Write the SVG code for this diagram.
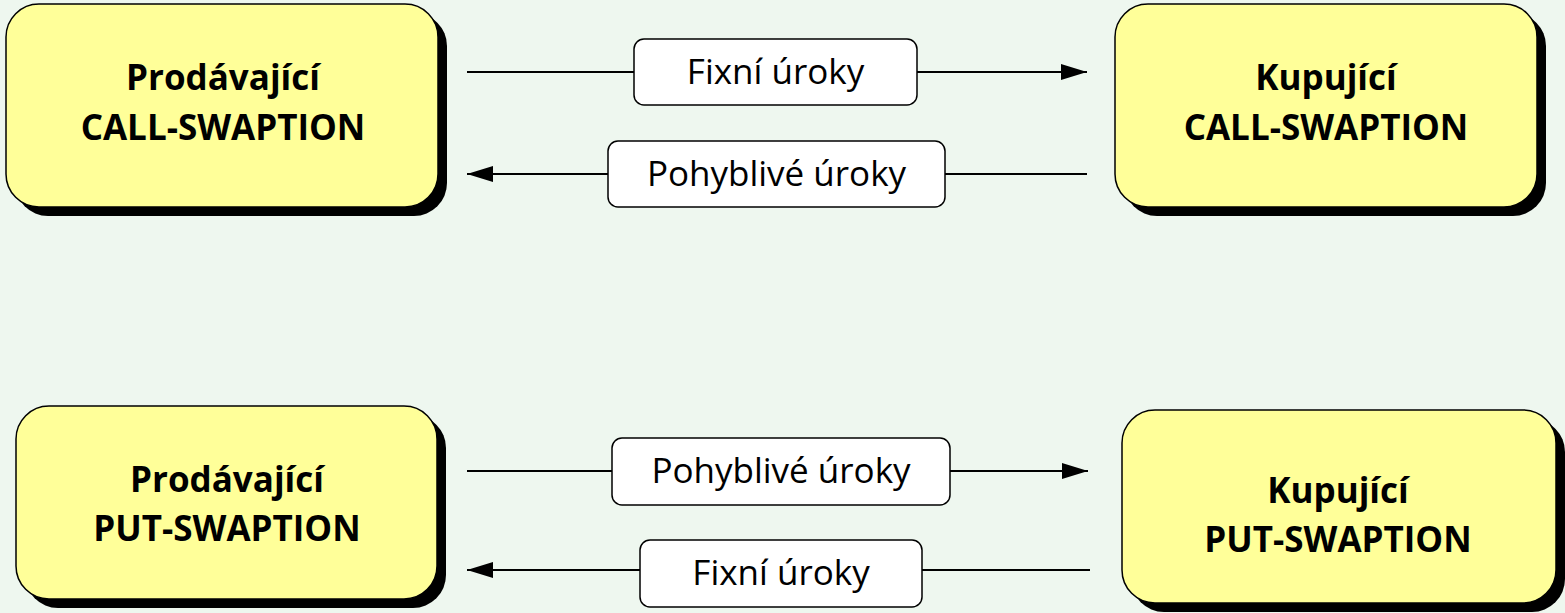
<svg xmlns="http://www.w3.org/2000/svg" width="1565" height="613" viewBox="0 0 1565 613">
  <defs>
    <marker id="arrowBig" viewBox="0 0 26 16" refX="26" refY="8" markerWidth="26" markerHeight="16" markerUnits="userSpaceOnUse" orient="auto">
      <path d="M0,0 L26,8 L0,16 Z" fill="#000"/>
    </marker>
  </defs>
  <style>
    .party-shadow { fill: #000; }
    .party { fill: #FFFF99; stroke: #000; stroke-width: 1.5; }
    .party-text { font-family: "Open Sans", "Liberation Sans", sans-serif; font-weight: bold; font-size: 35px; fill: #000; text-anchor: middle; }
    .flow { stroke: #000; stroke-width: 2; fill: none; }
    .tag { fill: #fff; stroke: #000; stroke-width: 1.5; }
    .tag-text { font-family: "Open Sans", "Liberation Sans", sans-serif; font-size: 35px; fill: #000; text-anchor: middle; }
  </style>

  <rect x="0" y="0" width="1565" height="613" fill="#EEF7EF"/>

  <!-- cash-flow connectors -->
  <g id="connectors">
    <line class="flow" x1="467" y1="72" x2="1087" y2="72" marker-end="url(#arrowBig)"/>
    <line class="flow" x1="1087" y1="174" x2="467" y2="174" marker-end="url(#arrowBig)"/>
    <line class="flow" x1="467" y1="471" x2="1088" y2="471" marker-end="url(#arrowBig)"/>
    <line class="flow" x1="1090" y1="570" x2="467" y2="570" marker-end="url(#arrowBig)"/>

    <g id="label-call-fixed">
      <rect class="tag" x="634" y="39" width="283" height="66" rx="10"/>
      <text class="tag-text" x="775.5" y="84">Fixní úroky</text>
    </g>
    <g id="label-call-floating">
      <rect class="tag" x="608" y="141" width="337" height="66" rx="10"/>
      <text class="tag-text" x="776.5" y="186">Pohyblivé úroky</text>
    </g>
    <g id="label-put-floating">
      <rect class="tag" x="612" y="438" width="338" height="67" rx="10"/>
      <text class="tag-text" x="781" y="483">Pohyblivé úroky</text>
    </g>
    <g id="label-put-fixed">
      <rect class="tag" x="640" y="540" width="282" height="67" rx="10"/>
      <text class="tag-text" x="781" y="585">Fixní úroky</text>
    </g>
  </g>

  <g id="seller-call">
    <rect class="party-shadow" x="15" y="13" width="432" height="203" rx="33"/>
    <rect class="party" x="6" y="4" width="432" height="203" rx="33"/>
    <text class="party-text" x="223" y="90">Prodávající</text>
    <text class="party-text" x="223" y="140">CALL-SWAPTION</text>
  </g>

  <g id="buyer-call">
    <rect class="party-shadow" x="1124" y="13" width="422" height="203" rx="33"/>
    <rect class="party" x="1115" y="4" width="422" height="203" rx="33"/>
    <text class="party-text" x="1326" y="90">Kupující</text>
    <text class="party-text" x="1326" y="140">CALL-SWAPTION</text>
  </g>

  <g id="seller-put">
    <rect class="party-shadow" x="25" y="415" width="421" height="193" rx="33"/>
    <rect class="party" x="16" y="406" width="421" height="193" rx="33"/>
    <text class="party-text" x="227" y="492">Prodávající</text>
    <text class="party-text" x="227" y="541">PUT-SWAPTION</text>
  </g>

  <g id="buyer-put">
    <rect class="party-shadow" x="1131" y="419" width="434" height="193" rx="33"/>
    <rect class="party" x="1122" y="410" width="434" height="193" rx="33"/>
    <text class="party-text" x="1338" y="503">Kupující</text>
    <text class="party-text" x="1338" y="552">PUT-SWAPTION</text>
  </g>
</svg>
